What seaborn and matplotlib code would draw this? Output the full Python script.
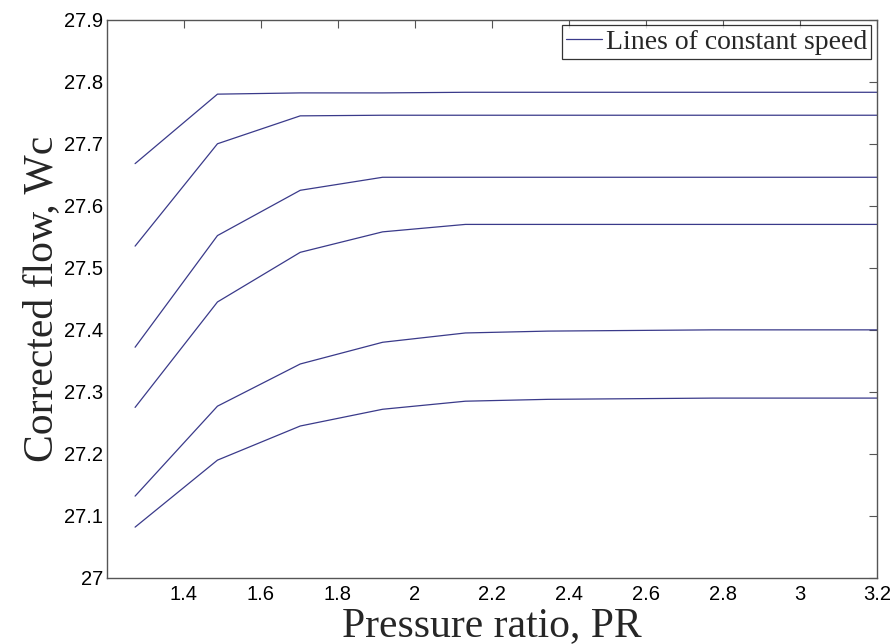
import matplotlib
matplotlib.use("Agg")
import matplotlib.pyplot as plt
import seaborn as sns
import pandas as pd

# pressure ratio points along each speed line
pr = [1.273, 1.487, 1.702, 1.916, 2.131, 2.345, 2.559, 2.774, 2.988, 3.2]

# corrected flow for each line of constant speed
wc_1 = [27.668, 27.780, 27.782, 27.782, 27.783, 27.783, 27.783, 27.783, 27.783, 27.783]
wc_2 = [27.535, 27.700, 27.745, 27.746, 27.746, 27.746, 27.746, 27.746, 27.746, 27.746]
wc_3 = [27.372, 27.552, 27.625, 27.646, 27.646, 27.646, 27.646, 27.646, 27.646, 27.646]
wc_4 = [27.275, 27.445, 27.525, 27.558, 27.570, 27.570, 27.570, 27.570, 27.570, 27.570]
wc_5 = [27.132, 27.277, 27.345, 27.380, 27.395, 27.398, 27.399, 27.400, 27.400, 27.400]
wc_6 = [27.082, 27.190, 27.245, 27.272, 27.285, 27.288, 27.289, 27.290, 27.290, 27.290]

speeds = ["s1", "s2", "s3", "s4", "s5", "s6"]
series = [wc_1, wc_2, wc_3, wc_4, wc_5, wc_6]

rows = []
for name, vals in zip(speeds, series):
    for x, y in zip(pr, vals):
        rows.append({"PR": x, "Wc": y, "speed": name})
df = pd.DataFrame(rows)

sns.set_style("white")
line_color = "#3a3a8a"

fig = plt.figure(figsize=(8.93, 6.44), dpi=100)
ax = fig.add_axes([0.1198, 0.1025, 0.8622, 0.8669])

sns.lineplot(data=df, x="PR", y="Wc", units="speed", estimator=None,
             color=line_color, linewidth=0.9, ax=ax, legend=False)

ax.set_xlim(1.2, 3.2)
ax.set_ylim(27.0, 27.9)
ax.set_xticks([1.4, 1.6, 1.8, 2.0, 2.2, 2.4, 2.6, 2.8, 3.0, 3.2])
ax.set_xticklabels(["1.4", "1.6", "1.8", "2", "2.2", "2.4", "2.6", "2.8", "3", "3.2"])
ax.set_yticks([27.0, 27.1, 27.2, 27.3, 27.4, 27.5, 27.6, 27.7, 27.8, 27.9])
ax.set_yticklabels(["27", "27.1", "27.2", "27.3", "27.4", "27.5", "27.6", "27.7", "27.8", "27.9"])
ax.tick_params(direction="in", length=6, width=0.8, top=True, right=True,
               labelsize=14.5, colors="#555555", labelcolor="black")
ax.tick_params(axis="y", pad=3)
ax.tick_params(axis="x", pad=5)
for lbl in ax.get_xticklabels() + ax.get_yticklabels():
    lbl.set_family("Liberation Sans")
for sp in ax.spines.values():
    sp.set_color("#555555")
    sp.set_linewidth(1.0)

ax.set_xlabel("Pressure ratio, PR", family="Liberation Serif", fontsize=30, labelpad=2)
ax.set_ylabel("Corrected flow, Wc", family="Liberation Serif", fontsize=30, labelpad=2)

handle = plt.Line2D([], [], color=line_color, linewidth=0.9)
leg = ax.legend([handle], ["Lines of constant speed"], loc="upper right",
                prop={"family": "Liberation Serif", "size": 20},
                frameon=True, fancybox=False, handlelength=1.3, handletextpad=0.15,
                borderpad=0.15, borderaxespad=0.2)
leg.get_frame().set_edgecolor("black")
leg.get_frame().set_linewidth(0.9)

fig.savefig("out.png", dpi=100)
plt.close(fig)
